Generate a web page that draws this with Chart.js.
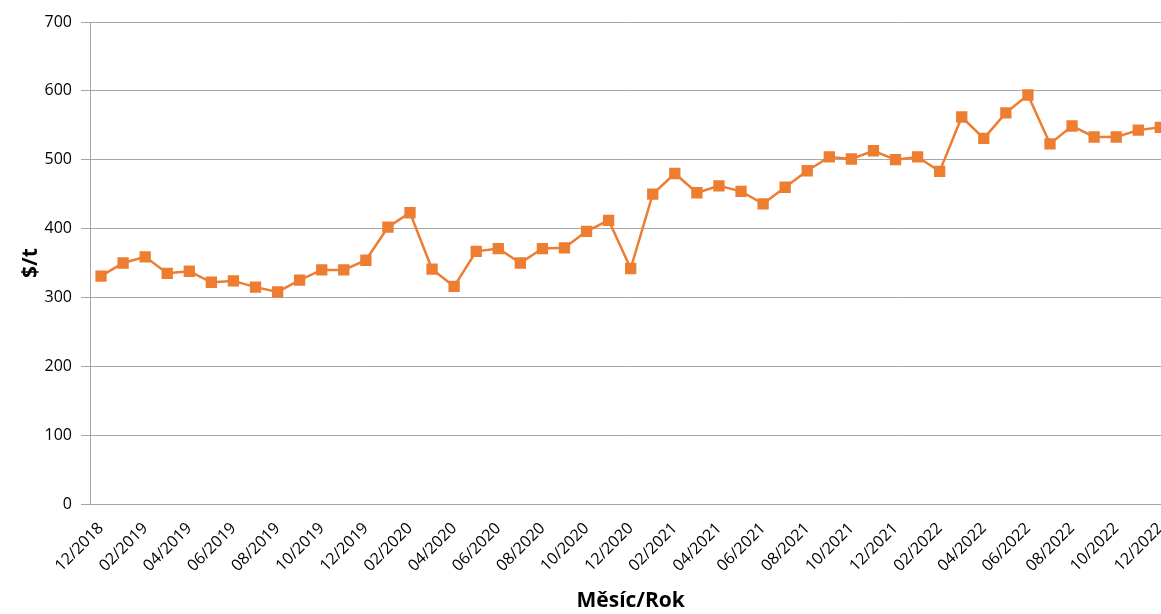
<!DOCTYPE html>
<html>
<head>
<meta charset="utf-8">
<script src="https://cdn.jsdelivr.net/npm/chart.js@4.4.1/dist/chart.umd.min.js"></script>
<style>
	html, body { margin: 0; padding: 0; background: #fff; overflow: hidden; }
	#wrap { width: 1189px; height: 614px; position: relative; }
</style>
</head>
<body>
<div id="wrap"><canvas id="priceChart"></canvas></div>
<script>
// months 12/2018 .. 12/2022
const months = [
	'12/2018',
	'01/2019', '02/2019', '03/2019', '04/2019', '05/2019', '06/2019',
	'07/2019', '08/2019', '09/2019', '10/2019', '11/2019', '12/2019',
	'01/2020', '02/2020', '03/2020', '04/2020', '05/2020', '06/2020',
	'07/2020', '08/2020', '09/2020', '10/2020', '11/2020', '12/2020',
	'01/2021', '02/2021', '03/2021', '04/2021', '05/2021', '06/2021',
	'07/2021', '08/2021', '09/2021', '10/2021', '11/2021', '12/2021',
	'01/2022', '02/2022', '03/2022', '04/2022', '05/2022', '06/2022',
	'07/2022', '08/2022', '09/2022', '10/2022', '11/2022', '12/2022'
];

// $/t
const prices = [
	331,
	350, 359, 335, 338, 322, 324,
	315, 308, 325, 340, 340, 354,
	402, 423, 341, 316, 367, 371,
	350, 371, 372, 396, 412, 342,
	450, 480, 452, 462, 454, 436,
	460, 484, 504, 501, 513, 500,
	504, 483, 562, 531, 568, 594,
	523, 549, 533, 533, 543, 547
];

const yTicks = [0, 100, 200, 300, 400, 500, 600, 700];

const gridGray = '#a6a6a6';
const textFont = "'Open Sans', 'Noto Sans', sans-serif";

new Chart(document.getElementById('priceChart'), {
	type: 'line',
	data: {
		labels: months,
		datasets: [{
			label: '$/t',
			data: prices,
			borderColor: '#ED7D31',
			backgroundColor: '#ED7D31',
			borderWidth: 2.5,
			pointStyle: 'rect',
			pointRadius: 8,
			pointBorderWidth: 0,
			tension: 0
		}]
	},
	options: {
		responsive: true,
		maintainAspectRatio: false,
		animation: false,
		layout: { padding: { top: 22, right: 8, left: 0, bottom: 0 } },
		plugins: {
			legend: { display: false },
			tooltip: { enabled: false }
		},
		scales: {
			x: {
				offset: true,
				grid: { display: false, drawTicks: false },
				border: { display: true, color: gridGray },
				ticks: {
					autoSkip: false,
					minRotation: 45,
					maxRotation: 45,
					padding: 15,
					color: '#000',
					font: { family: textFont, size: 16 },
					callback: (v, i) => (i % 2 === 0 ? months[i] : '')
				},
				title: {
					display: true,
					text: 'Měsíc/Rok',
					color: '#000',
					font: { family: textFont, size: 21, weight: 'bold' },
					padding: { top: 0, bottom: 0 }
				},
				afterFit: s => { s.height = 110; }
			},
			y: {
				min: 0,
				max: 700,
				afterBuildTicks: s => { s.ticks = yTicks.map(v => ({ value: v })); },
				grid: { color: gridGray, tickLength: 9, lineWidth: 1 },
				border: { display: true, color: gridGray },
				ticks: {
					padding: 9,
					color: '#000',
					font: { family: textFont, size: 16 }
				},
				title: {
					display: true,
					text: '$/t',
					color: '#000',
					font: { family: textFont, size: 21, weight: 'bold' },
					padding: { top: 18, bottom: 0 }
				},
				afterFit: s => { s.width = 90; }
			}
		}
	}
});
</script>
</body>
</html>
